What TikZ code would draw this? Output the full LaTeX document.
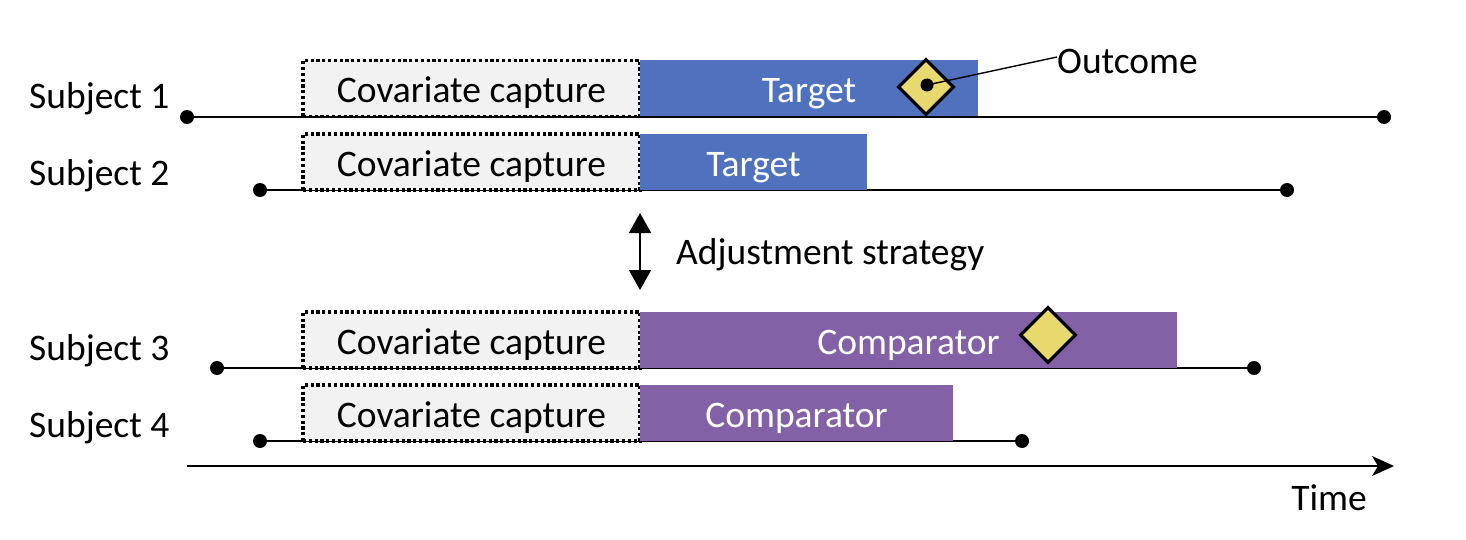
\documentclass[tikz,border=0pt]{standalone}
\usepackage{fontspec}
\setmainfont{Carlito}
\usetikzlibrary{arrows.meta,shapes.geometric}
\definecolor{tgtblue}{HTML}{4F71BE}
\definecolor{cmppurple}{HTML}{8361A6}
\definecolor{covgray}{HTML}{F2F2F2}
\definecolor{outyellow}{HTML}{E8D96E}
\tikzset{
  lbl/.style={font=\fontsize{37.5}{44}\selectfont, inner sep=0pt},
  covbox/.style={lbl, draw=black, fill=covgray, line width=3.4pt, dash pattern=on 3.2pt off 2.6pt, minimum width=337pt, minimum height=56pt, text depth=0pt, text height=29pt},
  tgtbox/.style={lbl, fill=tgtblue, text=white, minimum height=56pt, text depth=0pt, text height=29pt},
  cmpbox/.style={lbl, fill=cmppurple, text=white, minimum height=56pt, text depth=0pt, text height=29pt},
  enddot/.style={circle, fill=black, inner sep=0pt, minimum size=14pt},
  tl/.style={line width=1.8pt},
  outdia/.style={diamond, draw=black, fill=outyellow, line width=3.2pt, inner sep=0pt, minimum width=56pt, minimum height=56pt},
}
\begin{document}
\begin{tikzpicture}[x=1pt,y=-1pt]
\useasboundingbox (0,0) rectangle (1466,540);
% Subject 1
\node[enddot] (s1a) at (187,117) {};
\node[enddot] (s1b) at (1384,117) {};
\draw[tl] (s1a) -- (s1b);
\node[covbox] (c1) at (471.5,88.5) {Covariate capture};
\node[tgtbox, minimum width=338pt] (t1) at (809,88.5) {Target};
\node[lbl, anchor=west] (l1) at (29,99) {Subject 1};
\node[outdia] (o1) at (926,87) {};
\node[enddot, minimum size=13pt] (o1d) at (927,85) {};
\node[lbl, anchor=west] (o1t) at (1057,61) {Outcome};
\coordinate (o1e) at (1057,57);
\draw[line width=1.4pt] (o1d.center) -- (o1e);
% Subject 2
\node[enddot] (s2a) at (260,190) {};
\node[enddot] (s2b) at (1287,190) {};
\draw[tl] (s2a) -- (s2b);
\node[covbox] (c2) at (471.5,162) {Covariate capture};
\node[tgtbox, minimum width=227pt] (t2) at (753.5,162) {Target};
\node[lbl, anchor=west] (l2) at (29,176) {Subject 2};
% Adjustment
\coordinate (aa) at (640,213);
\coordinate (ab) at (640,290);
\draw[line width=1.6pt, {Triangle[length=20pt,width=22pt]}-{Triangle[length=20pt,width=22pt]}] (aa) -- (ab);
\node[lbl, anchor=west] (adj) at (676,255) {Adjustment strategy};
% Subject 3
\node[enddot] (s3a) at (217,368) {};
\node[enddot] (s3b) at (1254,368) {};
\draw[tl] (s3a) -- (s3b);
\node[covbox] (c3) at (471.5,340) {Covariate capture};
\node[cmpbox, minimum width=537pt] (p3) at (908.5,340) {Comparator};
\node[lbl, anchor=west] (l3) at (29,351) {Subject 3};
\node[outdia] (o3) at (1048,335) {};
% Subject 4
\node[enddot] (s4a) at (260,441) {};
\node[enddot] (s4b) at (1022,441) {};
\draw[tl] (s4a) -- (s4b);
\node[covbox] (c4) at (471.5,413) {Covariate capture};
\node[cmpbox, minimum width=313pt] (p4) at (796.5,413) {Comparator};
\node[lbl, anchor=west] (l4) at (29,428) {Subject 4};
% Time axis
\coordinate (ta) at (187,466);
\coordinate (tb) at (1394,466);
\draw[line width=1.6pt, -{Stealth[length=22pt,width=20pt,inset=6pt]}] (ta) -- (tb);
\node[lbl] (time) at (1329,498) {Time};
\end{tikzpicture}
\end{document}
